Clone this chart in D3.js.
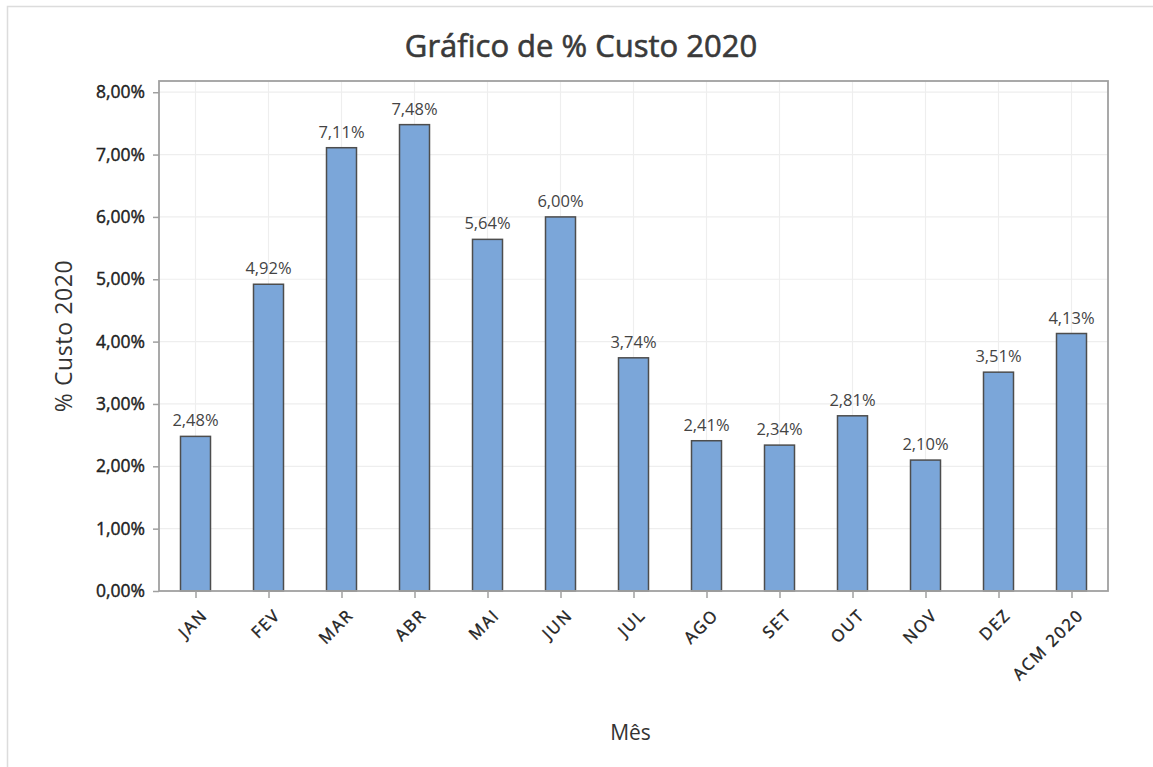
<!DOCTYPE html>
<html>
<head>
<meta charset="utf-8">
<script src="https://cdn.jsdelivr.net/npm/d3@7"></script>
<style>
body{margin:0;background:#fff;}
text{font-family:"Open Sans","Noto Sans",sans-serif;}
</style>
</head>
<body>
<div class="chart"></div>
<script>
// dados
var meses=['JAN','FEV','MAR','ABR','MAI','JUN','JUL','AGO','SET','OUT','NOV','DEZ','ACM 2020'];
var custo=[2.48,4.92,7.11,7.48,5.64,6.00,3.74,2.41,2.34,2.81,2.10,3.51,4.13];
var yTicks=[0,1,2,3,4,5,6,7,8];

var width=1153;
var height=767;
var plotL=159,plotR=1108,plotT=81,plotB=591;

var svg=d3.select('div.chart')
		.append('svg')
		.attr('width',width)
		.attr('height',height);

// moldura externa clara
svg.append('path')
	.attr('d','M7.5,'+height+'V6.5H'+width)
	.attr('fill','none')
	.attr('stroke','#dcdcdc')
	.attr('stroke-width',1.5);

var xScale=d3.scalePoint()
			.domain(meses)
			.range([plotL,plotR])
			.padding(0.5);
var yScale=d3.scaleLinear()
			.domain([0,8.18])
			.range([plotB,plotT]);

var fmt=function(d){
	return d.toFixed(2).replace('.',',')+'%';
};

// grade
svg.append('g')
	.selectAll('line')
	.data(yTicks.slice(1))
	.enter()
	.append('line')
	.attr('x1',plotL).attr('x2',plotR)
	.attr('y1',d=>yScale(d)).attr('y2',d=>yScale(d))
	.attr('stroke','#eeeeee')
	.attr('stroke-width',1.2);
svg.append('g')
	.selectAll('line')
	.data(meses)
	.enter()
	.append('line')
	.attr('x1',d=>xScale(d)).attr('x2',d=>xScale(d))
	.attr('y1',plotT).attr('y2',plotB)
	.attr('stroke','#eeeeee')
	.attr('stroke-width',1.2);

// barras
var barW=30;
svg.append('g')
	.selectAll('rect')
	.data(custo)
	.enter()
	.append('rect')
	.attr('x',(d,i)=>xScale(meses[i])-barW/2)
	.attr('y',d=>yScale(d))
	.attr('width',barW)
	.attr('height',d=>plotB-yScale(d))
	.attr('fill','#7ba6d9')
	.attr('stroke','#4d4d4d')
	.attr('stroke-width',1.5);

// rótulos dos valores
svg.append('g')
	.selectAll('text')
	.data(custo)
	.enter()
	.append('text')
	.attr('x',(d,i)=>xScale(meses[i]))
	.attr('y',d=>yScale(d)-10)
	.attr('text-anchor','middle')
	.attr('font-size','16.5px')
	.attr('fill','#444')
	.text(d=>fmt(d));

// moldura da área do gráfico
svg.append('rect')
	.attr('x',plotL).attr('y',plotT)
	.attr('width',plotR-plotL).attr('height',plotB-plotT)
	.attr('fill','none')
	.attr('stroke','#a0a0a0')
	.attr('stroke-width',1.8);

// eixo y
var yAxis=svg.append('g')
	.attr('transform','translate('+plotL+',0)')
	.call(d3.axisLeft(yScale)
			.tickValues(yTicks)
			.tickSize(6)
			.tickPadding(8)
			.tickFormat(fmt));
yAxis.select('.domain').remove();
yAxis.selectAll('line').attr('stroke','#a0a0a0').attr('stroke-width',1.5);
yAxis.selectAll('text')
	.attr('font-size','17.5px')
	.attr('fill','#222')
	.attr('stroke','#222')
	.attr('stroke-width',0.4)
	.style('font-family','"Open Sans",sans-serif');

// eixo x
var xAxis=svg.append('g')
	.attr('transform','translate(0,'+plotB+')')
	.call(d3.axisBottom(xScale).tickSize(7).tickFormat(''));
xAxis.select('.domain').remove();
xAxis.selectAll('line').attr('stroke','#a0a0a0').attr('stroke-width',1.5);

svg.append('g')
	.selectAll('text')
	.data(meses)
	.enter()
	.append('text')
	.attr('transform',d=>'translate('+(xScale(d)+9)+','+(plotB+21)+') rotate(-45)')
	.attr('text-anchor','end')
	.attr('dy','0.35em')
	.attr('font-size','16.5px')
	.attr('letter-spacing','1.8px')
	.attr('fill','#222')
	.attr('stroke','#222')
	.attr('stroke-width',0.4)
	.text(d=>d);

// títulos
svg.append('text')
	.attr('x',581)
	.attr('y',57)
	.attr('text-anchor','middle')
	.attr('font-size','31px')
	.attr('fill','#3a3a3a')
	.attr('stroke','#3a3a3a')
	.attr('stroke-width',0.6)
	.text('Gráfico de % Custo 2020');

svg.append('text')
	.attr('transform','translate(72,'+((plotT+plotB)/2)+') rotate(-90)')
	.attr('text-anchor','middle')
	.attr('font-size','23px')
	.attr('letter-spacing','0.6px')
	.attr('fill','#333')
	.text('% Custo 2020');

svg.append('text')
	.attr('x',(plotL+plotR)/2-3)
	.attr('y',740)
	.attr('text-anchor','middle')
	.attr('font-size','21px')
	.attr('fill','#333')
	.text('Mês');
</script>
</body>
</html>
